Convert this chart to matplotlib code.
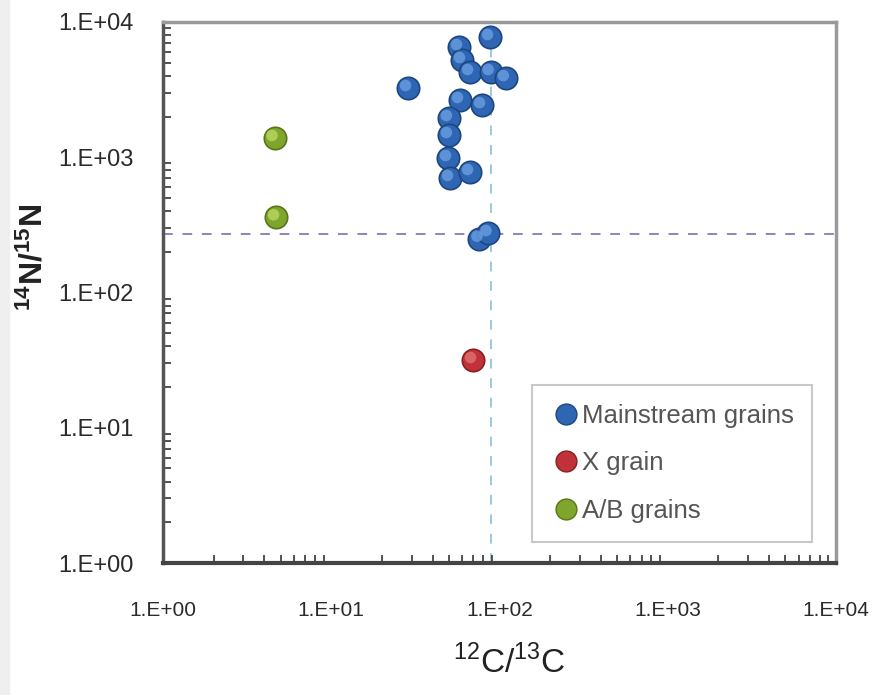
import matplotlib
matplotlib.use("Agg")
import matplotlib.pyplot as plt
import matplotlib.transforms as mtransforms
from matplotlib.patches import Rectangle
from matplotlib.ticker import LogLocator, FixedLocator, NullFormatter
from matplotlib.lines import Line2D

# ---- data ----
main_c = [28.6, 87.8, 57.4, 59.8, 66.8, 88.5, 109, 58.2, 78.7, 50.0, 50.0, 49.4, 50.8, 66.8, 76.0, 86.0]
main_n = [3250, 7750, 6530, 5240, 4270, 4270, 3850, 2650, 2430, 1950, 1460, 987, 703, 778, 250, 275]
x_c = [69.6]
x_n = [31.7]
ab_c = [4.6, 4.7]
ab_n = [1390, 360]
solar_c = 89
solar_n = 272
tick_vals = [1, 10, 100, 1000, 10000]
tick_labels = ["1.E+00", "1.E+01", "1.E+02", "1.E+03", "1.E+04"]
series_names = ["Mainstream grains", "X grain", "A/B grains"]

FAM = ["Liberation Sans", "DejaVu Sans"]
plt.rcParams["mathtext.fontset"] = "custom"
plt.rcParams["mathtext.rm"] = "Liberation Sans"
plt.rcParams["mathtext.bf"] = "Liberation Sans:bold"

fig = plt.figure(figsize=(8.77, 6.95), dpi=100)
fig.patches.append(Rectangle((0, 0), 9 / 877, 1, transform=fig.transFigure,
                             color="#efefef", zorder=0))
ax = fig.add_axes([163 / 877, 1 - 563 / 695, 673 / 877, 541 / 695])
ax.set_xscale("log")
ax.set_yscale("log")
ax.set_xlim(1, 1e4)
ax.set_ylim(1, 1e4)

# reference lines
ax.axhline(solar_n, color="#8a86bd", lw=1.4, ls=(0, (5, 5)), zorder=1)
ax.axvline(solar_c, color="#9cc9dc", lw=1.4, ls=(0, (5, 5)), zorder=1)

styles = [
    (main_c, main_n, "#2f66b3", "#1d4680", "#6a9ee0"),
    (x_c, x_n, "#c0323a", "#8a1e24", "#e07070"),
    (ab_c, ab_n, "#7fa52c", "#55761a", "#b9d860"),
]
hl = mtransforms.offset_copy(ax.transData, fig=fig, x=-2.5, y=2.5, units="dots")
for xs, ys, c, ec, hc in styles:
    ax.scatter(xs, ys, s=260, color=c, edgecolors=ec, linewidths=1.2, zorder=3)
    ax.scatter(xs, ys, s=70, color=hc, edgecolors="none", alpha=0.8, zorder=4, transform=hl)

# ticks
ax.xaxis.set_major_locator(FixedLocator(tick_vals))
ax.yaxis.set_major_locator(FixedLocator(tick_vals))
ax.set_xticklabels(tick_labels, fontsize=15, color="#2a2a2a", family=FAM)
ax.set_yticklabels(tick_labels, fontsize=17, color="#2a2a2a", family=FAM)
ax.xaxis.set_minor_locator(LogLocator(base=10, subs=range(2, 10)))
ax.yaxis.set_minor_locator(LogLocator(base=10, subs=range(2, 10)))
ax.xaxis.set_minor_formatter(NullFormatter())
ax.yaxis.set_minor_formatter(NullFormatter())
ax.tick_params(axis="both", which="both", direction="in", color="#444444")
ax.tick_params(axis="both", which="minor", length=6, width=1.3)
ax.tick_params(axis="both", which="major", length=0)
ax.tick_params(axis="x", which="major", pad=27)
ax.tick_params(axis="y", which="major", pad=21)

for side, col, lw in [("left", "#555555", 2.5), ("bottom", "#444444", 3.0),
                      ("top", "#9a9a9a", 2.5), ("right", "#9a9a9a", 2.5)]:
    ax.spines[side].set_color(col)
    ax.spines[side].set_linewidth(lw)

ax.set_xlabel(r"$^{12}$C/$^{13}$C", fontsize=24, color="#222222", family=FAM)
ax.xaxis.set_label_coords(0.515, -0.152)
ax.set_ylabel(r"$\mathbf{^{14}N/^{15}N}$", fontsize=23, color="#222222", family=FAM,
              fontweight="bold")
ax.yaxis.set_label_coords(-0.168, 0.565)

handles = [Line2D([], [], ls="none", marker="o", markersize=15, markerfacecolor=c,
                  markeredgecolor=ec) for _, _, c, ec, _ in styles]
leg = ax.legend(handles, series_names, loc="upper left",
                bbox_to_anchor=(0.548, 0.0425, 0.416, 0.2865), mode="expand",
                borderaxespad=0.0,
                frameon=True, fancybox=False, handletextpad=0.0, handlelength=1.2,
                labelspacing=0.9, borderpad=0.75,
                prop={"family": FAM, "size": 18.5})
leg.get_frame().set_edgecolor("#bbbbbb")
leg.get_frame().set_linewidth(1.5)
for t in leg.get_texts():
    t.set_color("#555555")

fig.savefig("out.png", dpi=100)
